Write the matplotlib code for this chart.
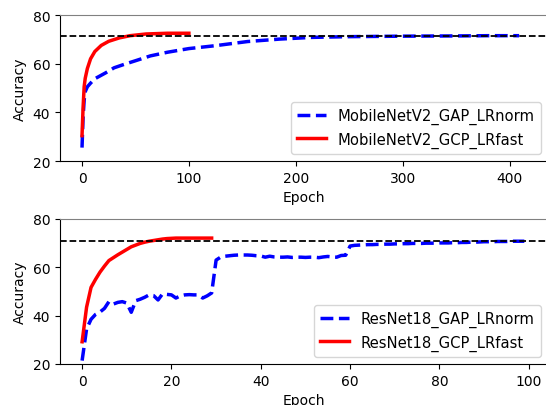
import matplotlib
matplotlib.use("Agg")
import matplotlib.pyplot as plt

# MobileNetV2 runs (top panel)
mb_gap_epoch = [0, 1, 2, 3, 5, 8, 12, 17, 22, 30, 40, 50, 64, 80, 100,
                125, 155, 185, 215, 250, 300, 350, 380, 409]
mb_gap_acc = [25.5, 38, 45, 48.5, 50.5, 52, 53.8, 55, 56.2, 58.3, 59.8, 61.2,
              63.2, 64.7, 66.2, 67.4, 69.1, 70.1, 70.8, 71.1, 71.3, 71.4, 71.5, 71.5]
mb_gcp_epoch = [0, 1, 2, 3, 5, 8, 12, 18, 25, 35, 45, 60, 80, 100]
mb_gcp_acc = [30.4, 42, 50.5, 54, 58, 62, 65, 67.5, 69.2, 70.6, 71.5, 72.2, 72.5, 72.5]
mb_ref = 71.5

# ResNet18 runs (bottom panel)
rn_gap_acc = [21.4, 34.5, 38.5, 40.5, 41.5, 43.0, 45.8, 44.8, 45.5, 45.8,
              45.2, 41.4, 46.2, 46.8, 47.6, 48.6, 48.3, 46.5, 49.0, 48.8,
              48.6, 47.3, 48.2, 48.6, 48.7, 48.6, 48.6, 47.3, 48.2, 49.4,
              63.0, 64.2, 64.6, 64.8, 65.0, 65.1, 65.1, 65.1, 65.0, 64.8,
              64.7, 64.2, 64.6, 64.3, 64.2, 64.2, 64.3, 64.1, 64.2, 64.2,
              64.1, 64.2, 64.2, 64.0, 64.3, 64.5, 64.3, 64.2, 64.9, 65.0,
              68.8, 69.1, 69.2, 69.3, 69.4, 69.4, 69.5, 69.5, 69.6, 69.6,
              69.7, 69.7, 69.8, 69.8, 69.9, 69.9, 69.9, 70.0, 70.0, 70.0,
              70.1, 70.1, 70.1, 70.2, 70.2, 70.3, 70.3, 70.4, 70.4, 70.5,
              70.6, 70.6, 70.6, 70.7, 70.7, 70.7, 70.8, 70.8, 70.8, 70.8]
rn_gcp_acc = [29.2, 43.5, 51.7, 55.0, 58.0, 60.5, 62.8, 64.0, 65.2, 66.3,
              67.4, 68.5, 69.2, 69.9, 70.4, 70.8, 71.1, 71.4, 71.7, 71.9,
              72.0, 72.1, 72.1, 72.1, 72.1, 72.1, 72.1, 72.1, 72.1, 72.1]
rn_ref = 70.7

W, H = 546, 406
fig = plt.figure(figsize=(W / 100, H / 100), dpi=100)

def px_axes(left, top, right, bottom):
    return fig.add_axes([left / W, 1 - bottom / H, (right - left) / W, (bottom - top) / H])

# top panel
ax1 = px_axes(60, 16, 548, 162)
ax1.plot(mb_gap_epoch, mb_gap_acc, "b--", lw=2.5, label="MobileNetV2_GAP_LRnorm")
ax1.plot(mb_gcp_epoch, mb_gcp_acc, "r-", lw=2.5, label="MobileNetV2_GCP_LRfast")
ax1.axhline(mb_ref, color="k", ls="--", lw=1.3)
ax1.set_xlim(-20.6, 436)
ax1.set_ylim(20, 80)
ax1.set_xticks([0, 100, 200, 300, 400])
ax1.set_yticks([20, 40, 60, 80])
ax1.set_xlabel("Epoch")
ax1.set_ylabel("Accuracy")
ax1.legend(loc="lower right", fontsize=10.6)

# bottom panel
ax2 = px_axes(60, 220, 548, 365)
ax2.plot(range(len(rn_gap_acc)), rn_gap_acc, "b--", lw=2.5, label="ResNet18_GAP_LRnorm")
ax2.plot(range(len(rn_gcp_acc)), rn_gcp_acc, "r-", lw=2.5, label="ResNet18_GCP_LRfast")
ax2.axhline(rn_ref, color="k", ls="--", lw=1.3)
ax2.set_xlim(-4.95, 104.3)
ax2.set_ylim(20, 80)
ax2.set_xticks([0, 20, 40, 60, 80, 100])
ax2.set_yticks([20, 40, 60, 80])
ax2.set_xlabel("Epoch")
ax2.set_ylabel("Accuracy")
ax2.legend(loc="lower right", fontsize=10.6)

for ax in (ax1, ax2):
    ax.spines["top"].set_color("0.5")
    ax.spines["right"].set_visible(False)

fig.savefig("out.png", dpi=100)
